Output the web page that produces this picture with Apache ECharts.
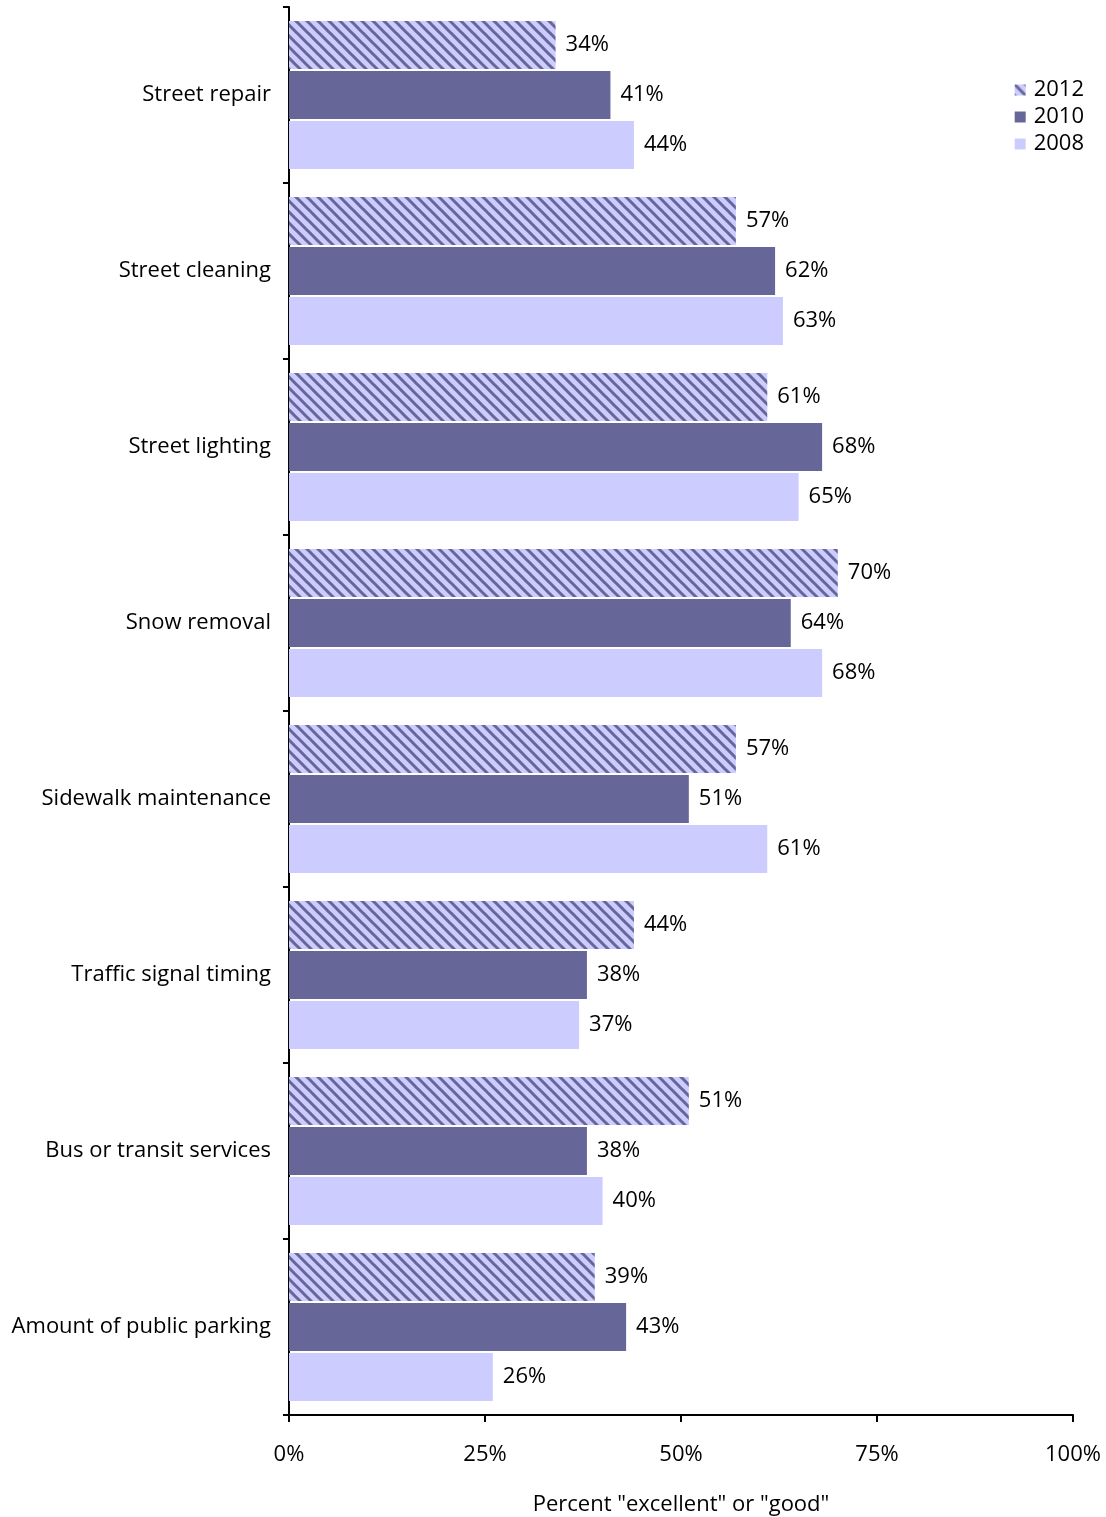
<!DOCTYPE html>
<html>
<head>
<meta charset="utf-8">
<script src="https://cdn.jsdelivr.net/npm/echarts@6/dist/echarts.min.js"></script>
<style>
  html, body { margin: 0; padding: 0; background: #fff; }
  #chart { width: 1106px; height: 1517px; }
</style>
</head>
<body>
<div id="chart"></div>
<script>
// Resident ratings of transportation services
const categories = [
  'Street repair', 'Street cleaning', 'Street lighting', 'Snow removal',
  'Sidewalk maintenance', 'Traffic signal timing', 'Bus or transit services',
  'Amount of public parking'
];
const years = ['2012', '2010', '2008'];
const values2012 = [34, 57, 61, 70, 57, 44, 51, 39];
const values2010 = [41, 62, 68, 64, 51, 38, 38, 43];
const values2008 = [44, 63, 65, 68, 61, 37, 40, 26];
const xTicks = [0, 25, 50, 75, 100];

const DARK = '#666699';
const LIGHT = '#ccccff';
const FONT = 'Open Sans';
const FS = 22;

// Diagonal hatch tile for the 2012 bars
function hatchTile() {
  const s = 11;
  const c = document.createElement('canvas');
  c.width = s; c.height = s;
  const g = c.getContext('2d');
  g.fillStyle = LIGHT;
  g.fillRect(0, 0, s, s);
  g.strokeStyle = DARK;
  g.lineWidth = 3;
  g.beginPath();
  g.moveTo(-2, -2); g.lineTo(s + 2, s + 2);
  g.moveTo(-2, s - 2); g.lineTo(2, s + 2);
  g.moveTo(s - 2, -2); g.lineTo(s + 2, 2);
  g.stroke();
  return c;
}
const hatch = { image: hatchTile(), repeat: 'repeat' };

const chart = echarts.init(document.getElementById('chart'));

function barSeries(name, data, color) {
  return {
    name: name,
    type: 'bar',
    data: data,
    barWidth: 48,
    barGap: '4%',
    itemStyle: { color: color },
    label: {
      show: true,
      position: 'right',
      distance: 10,
      formatter: '{c}%',
      color: '#000',
      fontFamily: FONT,
      fontSize: FS
    },
    emphasis: { disabled: true }
  };
}

chart.setOption({
  animation: false,
  backgroundColor: '#fff',
  textStyle: { fontFamily: FONT },
  grid: {
    left: 289, right: 33, top: 7, bottom: 102,
    containLabel: false,
    outerBoundsMode: 'none'
  },
  legend: {
    data: years,
    orient: 'vertical',
    right: 17,
    top: 74,
    itemWidth: 11,
    itemHeight: 11,
    itemGap: 5,
    textStyle: { fontFamily: FONT, fontSize: FS, color: '#000', padding: [0, 0, 0, 3] },
    icon: 'rect'
  },
  xAxis: {
    type: 'value',
    min: 0,
    max: 100,
    interval: 25,
    name: 'Percent "excellent" or "good"',
    nameLocation: 'middle',
    nameGap: 79,
    nameTextStyle: { fontFamily: FONT, fontSize: FS, color: '#000' },
    axisLine: { show: true, lineStyle: { color: '#000', width: 2 } },
    axisTick: { show: true, length: 7, lineStyle: { color: '#000', width: 2 } },
    axisLabel: {
      formatter: v => xTicks.includes(v) ? v + '%' : '',
      fontFamily: FONT, fontSize: FS, color: '#000', margin: 29
    },
    splitLine: { show: false }
  },
  yAxis: {
    type: 'category',
    data: categories,
    inverse: true,
    axisLine: { show: true, lineStyle: { color: '#000', width: 2 } },
    axisTick: { show: true, length: 6, lineStyle: { color: '#000', width: 2 } },
    axisLabel: { fontFamily: FONT, fontSize: FS, color: '#000', margin: 18 }
  },
  series: [
    barSeries('2012', values2012, hatch),
    barSeries('2010', values2010, DARK),
    barSeries('2008', values2008, LIGHT)
  ]
});
</script>
</body>
</html>
